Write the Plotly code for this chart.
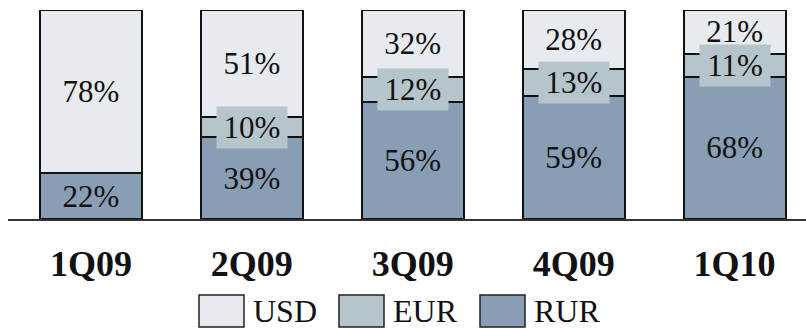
import plotly.graph_objects as go

# Currency structure by quarter, % of total
quarters = ["1Q09", "2Q09", "3Q09", "4Q09", "1Q10"]
rur = [22, 39, 56, 59, 68]
eur = [0, 10, 12, 13, 11]
usd = [78, 51, 32, 28, 21]

series_names = ["USD", "EUR", "RUR"]
colors = {"USD": "#E7EAEF", "EUR": "#B6C5CC", "RUR": "#889EB5"}

FONT = "Liberation Serif, Times New Roman, serif"
W, H = 806, 328
ML, MR, MT, MB = 8, 0, 10, 109
PW, PH = W - ML - MR, H - MT - MB


def px_x(px):
    return (px - ML) / PW


def px_y(py):
    return (H - MB - py) / PH


fig = go.Figure()

line = dict(color="#111111", width=2)
label_font = dict(family=FONT, size=31, color="#111111")

fig.add_trace(go.Bar(
    x=quarters, y=rur, name="RUR",
    marker=dict(color=colors["RUR"], line=line),
    text=[f"{v}%" for v in rur], textposition="inside",
    insidetextanchor="middle", textangle=0, constraintext="none",
    textfont=label_font,
))
fig.add_trace(go.Bar(
    x=quarters, y=eur, name="EUR",
    marker=dict(color=colors["EUR"], line=line),
    hoverinfo="skip",
))
fig.add_trace(go.Bar(
    x=quarters, y=usd, name="USD",
    marker=dict(color=colors["USD"], line=line),
    text=[f"{v}%" for v in usd], textposition="inside",
    insidetextanchor="middle", textangle=0, constraintext="none",
    textfont=label_font,
))

# EUR labels sit on a filled box that covers the segment separators
annotations = []
for q, r, e in zip(quarters, rur, eur):
    if e <= 0:
        continue
    annotations.append(dict(
        x=q, y=r + e / 2, xref="x", yref="y",
        text=f"{e}%", showarrow=False, font=label_font,
        bgcolor=colors["EUR"], width=68, height=39,
        xanchor="center", yanchor="middle",
    ))

# Legend row drawn with swatches and labels
shapes = []
legend_x0 = [199, 339, 480]
for name, x0 in zip(series_names, legend_x0):
    shapes.append(dict(
        type="rect", xref="paper", yref="paper",
        x0=px_x(x0), x1=px_x(x0 + 45), y0=px_y(327), y1=px_y(295),
        fillcolor=colors[name], line=dict(color="#222222", width=1.5),
    ))
    annotations.append(dict(
        x=px_x(x0 + 52), y=px_y(311), xref="paper", yref="paper",
        text=name, showarrow=False, xanchor="left", yanchor="middle",
        font=dict(family=FONT, size=32, color="#111111"),
    ))

fig.update_layout(
    width=W, height=H,
    margin=dict(l=ML, r=MR, t=MT, b=MB),
    barmode="stack", bargap=0.366,
    showlegend=False,
    plot_bgcolor="white", paper_bgcolor="white",
    annotations=annotations, shapes=shapes,
    xaxis=dict(
        type="category", range=[-0.5155, 4.444],
        showline=True, linecolor="#333333", linewidth=1.5,
        showgrid=False, ticks="", zeroline=False,
        tickfont=dict(family=FONT, size=36, color="#111111", weight="bold"),
        ticklabelstandoff=12,
    ),
    yaxis=dict(range=[0, 100], visible=False),
)

fig.write_html("out.html")
